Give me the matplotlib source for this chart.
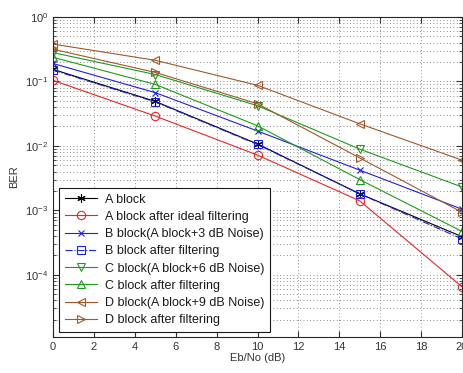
import matplotlib
matplotlib.use("Agg")
import matplotlib.pyplot as plt
import matplotlib.ticker as ticker

plt.rcParams["font.family"] = ["Liberation Sans", "DejaVu Sans"]
plt.rcParams["mathtext.fontset"] = "custom"
plt.rcParams["mathtext.rm"] = "Liberation Sans"

# Eb/No points (dB)
ebno = [0, 5, 10, 15, 20]

# BER
a_block      = [0.154, 0.049, 0.0107, 0.0018, 0.00039]
a_ideal      = [0.104, 0.029, 0.0072, 0.0014, 0.000065]
b_block      = [0.19, 0.067, 0.017, 0.0042, 0.00104]
b_filtered   = [0.150, 0.048, 0.0105, 0.0018, 0.00036]
c_block      = [0.28, 0.128, 0.042, 0.0089, 0.0023]
c_filtered   = [0.237, 0.09, 0.0205, 0.003, 0.00047]
d_block      = [0.38, 0.213, 0.087, 0.022, 0.006]
d_filtered   = [0.316, 0.138, 0.045, 0.0065, 0.00093]

labels = [
    "A block",
    "A block after ideal filtering",
    "B block(A block+3 dB Noise)",
    "B block after filtering",
    "C block(A block+6 dB Noise)",
    "C block after filtering",
    "D block(A block+9 dB Noise)",
    "D block after filtering",
]

RED = "#e8262a"
BLUE = "#2020e0"
GREEN = "#1e9a1e"
BROWN = "#a0582a"

series = [
    (a_block,    "k",   "-",  (6, 2, 0), 6),
    (a_ideal,    RED,   "-",  "o", 6),
    (b_block,    BLUE,  "-",  "x", 4),
    (b_filtered, BLUE,  "-.", "s", 6),
    (c_block,    GREEN, "-",  "v", 6),
    (c_filtered, GREEN, "-",  "^", 6),
    (d_block,    BROWN, "-",  "<", 6),
    (d_filtered, BROWN, "-",  ">", 6),
]

fig = plt.figure(figsize=(4.63, 3.73), dpi=100)
fig.patch.set_facecolor("white")
ax = fig.add_axes([53 / 463, 36 / 373, 409 / 463, 320 / 373])

for (vals, col, ls, mk, ms), lab in zip(series, labels):
    ax.semilogy(ebno, vals, color=col, linestyle=ls, marker=mk, markersize=ms,
                markerfacecolor="none", markeredgecolor=col, markeredgewidth=0.8,
                linewidth=0.8, label=lab)

ax.set_xlim(0, 20)
ax.set_ylim(1.08e-5, 1)
ax.xaxis.set_major_locator(ticker.MultipleLocator(2))
ax.yaxis.set_major_locator(ticker.LogLocator(base=10, numticks=10))
ax.yaxis.set_minor_locator(ticker.LogLocator(base=10, subs=range(2, 10), numticks=10))
ax.yaxis.set_minor_formatter(ticker.NullFormatter())

grid_style = dict(linestyle=(0, (1, 3)), color="0.4", linewidth=0.6)
ax.grid(True, which="major", **grid_style)
ax.grid(True, which="minor", axis="y", **grid_style)

ax.tick_params(which="both", direction="in", top=True, right=True,
               labelsize=8, colors="0.2")
ax.tick_params(which="major", length=4)
ax.tick_params(which="minor", length=2)
for s in ax.spines.values():
    s.set_linewidth(0.8)
    s.set_color("0.15")

ax.set_xlabel("Eb/No (dB)", fontsize=8, color="0.2", labelpad=1)
ax.set_ylabel("BER", fontsize=8, color="0.2", labelpad=4)

leg = ax.legend(loc="lower left", bbox_to_anchor=(0.015, 0.016), borderaxespad=0,
                fontsize=9, fancybox=False, framealpha=1, edgecolor="0.1",
                handlelength=2.6, handletextpad=0.6, labelspacing=0.42,
                borderpad=0.45)
leg.get_frame().set_linewidth(0.8)
for t in leg.get_texts():
    t.set_color("0.1")

fig.savefig("out.png", dpi=100)
